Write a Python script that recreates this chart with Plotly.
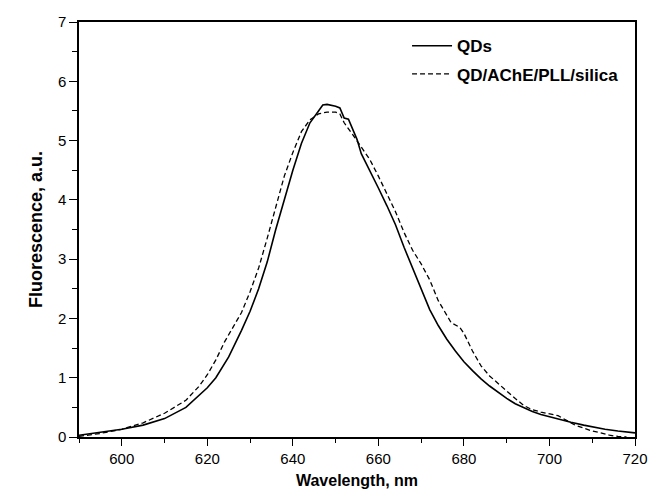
import plotly.graph_objects as go

# QDs (solid)
qd_x = [590, 595, 600, 605, 610, 615, 620, 622, 625, 628, 630, 632, 634, 636, 638, 640, 642, 644, 646, 647, 648, 650, 651, 652, 653,
        655, 656, 658, 660, 662, 664, 666, 668, 670, 672, 674, 676, 678, 680, 682, 684, 686, 688, 690, 692, 694, 696, 698, 700,
        703, 705, 708, 710, 713, 716, 720]
qd_y = [0.03, 0.08, 0.13, 0.2, 0.31, 0.5, 0.83, 1.0, 1.35, 1.8, 2.12, 2.5, 2.95, 3.5, 4.0, 4.5, 4.95, 5.3, 5.5, 5.6, 5.61, 5.58, 5.55, 5.38, 5.36,
        5.02, 4.78, 4.5, 4.2, 3.9, 3.58, 3.2, 2.85, 2.5, 2.15, 1.88, 1.65, 1.45, 1.27, 1.12, 0.98, 0.86, 0.75, 0.65, 0.56, 0.49, 0.43, 0.38, 0.34,
        0.29, 0.25, 0.2, 0.17, 0.13, 0.1, 0.07]

# QD/AChE/PLL/silica (dashed)
sil_x = [590, 595, 600, 605, 610, 615, 618, 620, 622, 624, 626, 628, 630, 632, 634, 636, 638, 640, 642, 644, 646, 648, 650, 651,
         652, 654, 656, 658, 660, 662, 664, 666, 668, 670, 672, 674, 676, 677, 679, 680, 682, 684, 686, 688, 690, 692, 694, 696, 698,
         700, 702, 704, 706, 708, 710, 712, 714, 716, 718]
sil_y = [0.01, 0.06, 0.13, 0.24, 0.4, 0.62, 0.85, 1.05, 1.3, 1.6, 1.85, 2.1, 2.45, 2.85, 3.35, 3.9, 4.4, 4.8, 5.15, 5.35, 5.45, 5.48, 5.48, 5.45,
         5.3, 5.1, 4.9, 4.68, 4.4, 4.1, 3.8, 3.45, 3.15, 2.92, 2.65, 2.3, 2.05, 1.93, 1.85, 1.75, 1.45, 1.2, 1.03, 0.9, 0.78, 0.65, 0.53, 0.46, 0.42,
         0.39, 0.36, 0.28, 0.2, 0.15, 0.1, 0.07, 0.03, 0.01, 0.0]

x_ticks = [600, 620, 640, 660, 680, 700, 720]
y_ticks = [0, 1, 2, 3, 4, 5, 6, 7]

FONT = "Liberation Sans, Arial, sans-serif"

fig = go.Figure()
fig.add_trace(go.Scatter(x=qd_x, y=qd_y, mode="lines", name="QDs", legendgroup="a",
                         line=dict(color="black", width=1.6)))
fig.add_trace(go.Scatter(x=sil_x, y=sil_y, mode="lines", name="QD/AChE/PLL/silica", legendgroup="b",
                         line=dict(color="black", width=1.3, dash="5px,3px")))

fig.update_layout(
    width=660, height=500,
    margin=dict(l=79, r=12, t=22, b=63),
    paper_bgcolor="white", plot_bgcolor="white",
    font=dict(family=FONT, color="black", size=14),
    showlegend=True,
    legend=dict(x=0.59, y=0.985, xanchor="left", yanchor="top",
                bgcolor="rgba(0,0,0,0)", borderwidth=0,
                font=dict(family=FONT, size=17, color="black", weight="bold"),
                tracegroupgap=3, itemwidth=40),
    xaxis=dict(range=[590, 720], tickvals=x_ticks, ticks="outside", ticklen=7, tickwidth=1.2,
               tickcolor="black", showline=True, linecolor="black", linewidth=1.5, mirror=True,
               showgrid=False, zeroline=False,
               minor=dict(dtick=10, tick0=590, ticks="outside", ticklen=4, tickwidth=1.2, tickcolor="black"),
               tickfont=dict(size=15),
               title=dict(text="Wavelength, nm", font=dict(size=16, weight="bold"), standoff=9)),
    yaxis=dict(range=[0, 7], tickvals=y_ticks, ticks="outside", ticklen=8, tickwidth=1.2,
               tickcolor="black", showline=True, linecolor="black", linewidth=1.5, mirror=True,
               showgrid=False, zeroline=False,
               minor=dict(dtick=0.5, ticks="outside", ticklen=5, tickwidth=1.2, tickcolor="black"),
               tickfont=dict(size=15),
               title=dict(text="Fluorescence, a.u.", font=dict(size=18, weight="bold"), standoff=11)),
)

fig.write_html("out.html")
